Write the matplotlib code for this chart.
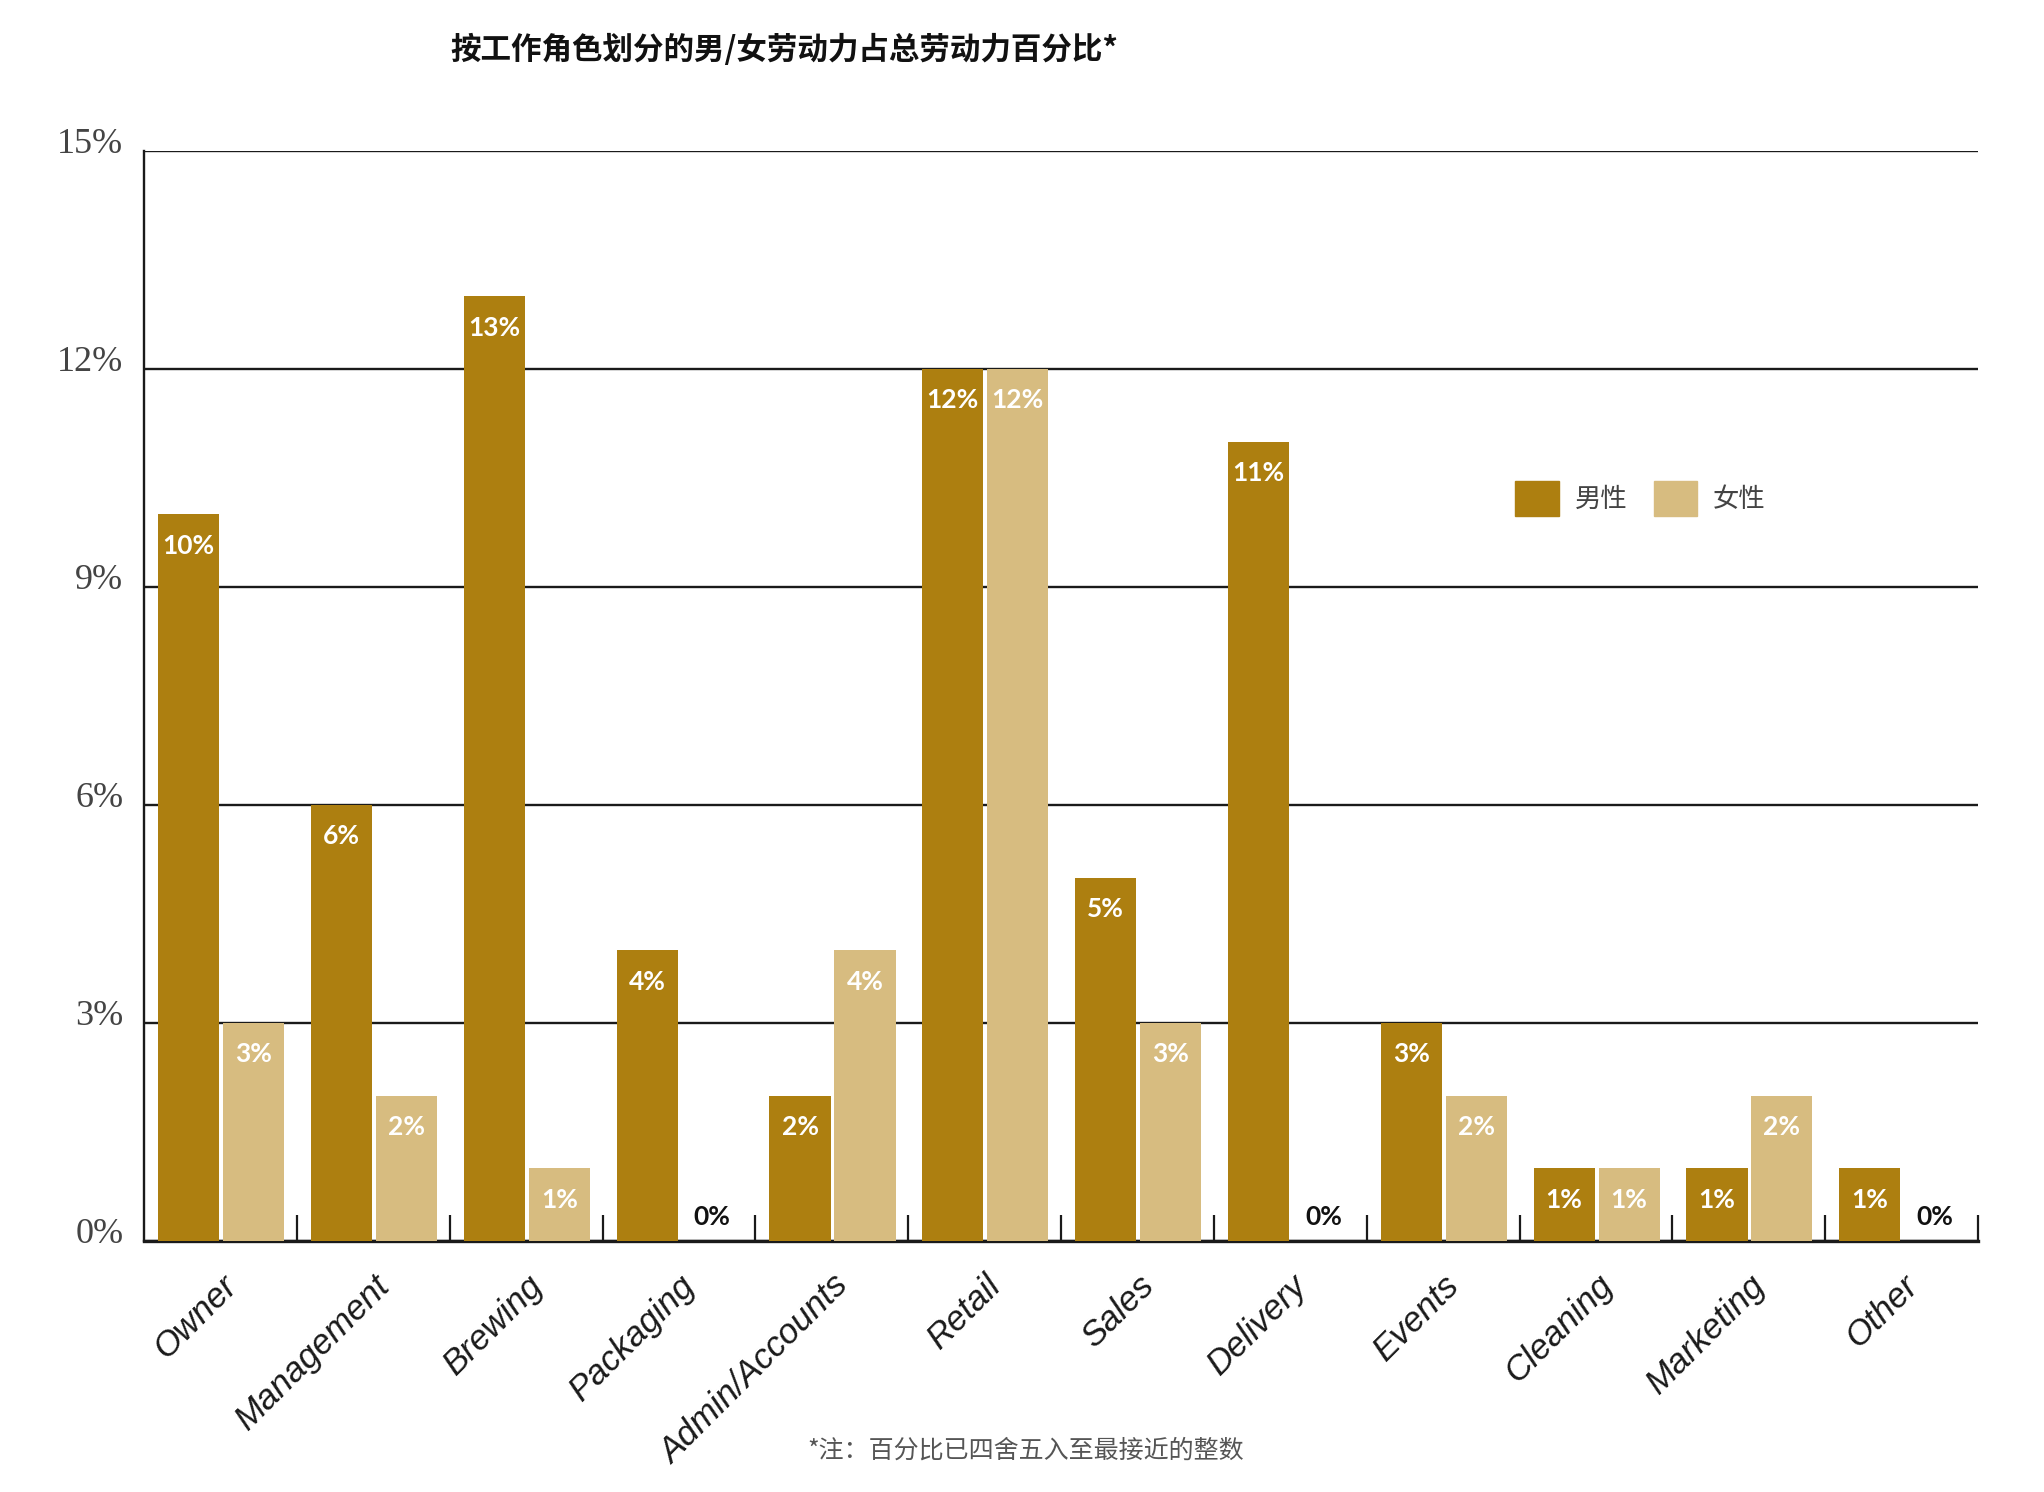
import matplotlib
matplotlib.use("Agg")
import matplotlib.pyplot as plt
import matplotlib.transforms as mtransforms
from matplotlib.patches import Patch
import numpy as np

# data
roles = ["Owner", "Management", "Brewing", "Packaging", "Admin/Accounts", "Retail",
         "Sales", "Delivery", "Events", "Cleaning", "Marketing", "Other"]
male_pct = [10, 6, 13, 4, 2, 12, 5, 11, 3, 1, 1, 1]
female_pct = [3, 2, 1, 0, 4, 12, 3, 0, 2, 1, 2, 0]
y_ticks = [0, 3, 6, 9, 12, 15]

title = "按工作角色划分的男/女劳动力占总劳动力百分比*"
footnote = "*注：百分比已四舍五入至最接近的整数"
legend_labels = ["男性", "女性"]

male_color = "#AD7F10"
female_color = "#D7BC80"
cjk = ["Noto Sans CJK SC", "DejaVu Sans"]

fig = plt.figure(figsize=(20.44, 14.92), dpi=100)
ax = fig.add_axes([0.0705, 0.1682, 0.8972, 0.7306])

idx = np.arange(len(roles))
width = 0.4
male_x = idx + 0.292
female_x = idx + 0.717

ax.bar(male_x, male_pct, width, color=male_color, zorder=3)
ax.bar(female_x, female_pct, width, color=female_color, zorder=3)

def put_labels(xs, vals):
    for x, v in zip(xs, vals):
        if v > 0:
            ax.text(x, v - 0.43, f"{v}%", ha="center", va="center", color="white",
                    fontsize=19, fontweight="bold", family="Lato", zorder=4)
        else:
            ax.text(x, 0.33, f"{v}%", ha="center", va="center", color="#111111",
                    fontsize=19, fontweight="bold", family="Lato", zorder=4)

put_labels(male_x, male_pct)
put_labels(female_x, female_pct)

ax.set_xlim(0, len(roles))
ax.set_ylim(0, 15)
ax.set_axisbelow(True)

ax.set_yticks(y_ticks)
ax.set_yticklabels([f"{t}%" for t in y_ticks], family="Liberation Serif",
                   fontsize=26, color="#444444")
ax.tick_params(axis="y", length=0, pad=15)
shift = mtransforms.ScaledTranslation(0, 5 / 72, fig.dpi_scale_trans)
for lab in ax.get_yticklabels():
    lab.set_verticalalignment("center")
    lab.set_transform(lab.get_transform() + shift)
ax.yaxis.grid(True, color="#1a1a1a", linewidth=1.7)

ax.set_xticks(idx + 0.5)
ax.set_xticklabels(roles, rotation=45, ha="right", rotation_mode="anchor",
                   family="Liberation Sans", style="italic", fontsize=25, color="#1a1a1a")
ax.tick_params(axis="x", which="major", length=0, pad=20)
ax.set_xticks(idx + 1, minor=True)
ax.tick_params(axis="x", which="minor", direction="in", length=19, width=1.6,
               color="#1a1a1a")

for s in ["top", "right"]:
    ax.spines[s].set_visible(False)
ax.spines["left"].set_linewidth(1.7)
ax.spines["left"].set_color("#1a1a1a")
ax.spines["bottom"].set_linewidth(2.4)
ax.spines["bottom"].set_color("#1a1a1a")

handles = [Patch(color=male_color), Patch(color=female_color)]
leg = ax.legend(handles, legend_labels, loc="center left", bbox_to_anchor=(0.7476, 10.22 / 15),
                ncol=2, frameon=False, handlelength=1.65, handleheight=1.65,
                handletextpad=0.6, columnspacing=1.0, borderpad=0, borderaxespad=0,
                prop={"family": cjk, "size": 19, "weight": "light"})
for t in leg.get_texts():
    t.set_color("#444444")

fig.text(0.3836, 1 - 50 / 1492, title, ha="center", va="center", fontsize=22,
         fontweight="bold", family=cjk, color="#111111")
fig.text(0.502, 1 - 1451 / 1492, footnote, ha="center", va="center", fontsize=18,
         family=cjk, weight="light", color="#555555")

fig.savefig("out.png", dpi=100)
